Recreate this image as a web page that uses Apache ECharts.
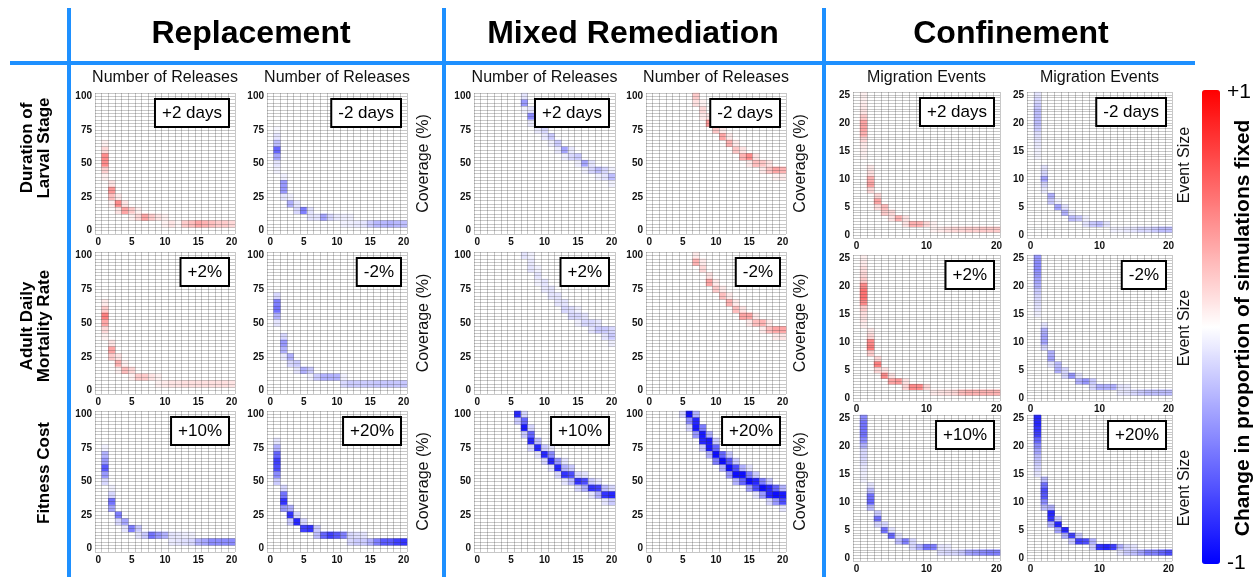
<!DOCTYPE html>
<html>
<head>
<meta charset="utf-8">
<script src="https://cdn.jsdelivr.net/npm/echarts@6/dist/echarts.min.js"></script>
<style>
html, body { margin: 0; padding: 0; background: #fff; }
#chart { width: 1257px; height: 577px; }
</style>
</head>
<body>
<div id="chart"></div>
<script>
const FONT = '"Liberation Sans", Arial, Helvetica, sans-serif';

// axis categories
const releases = ['0','1','2','3','4','5','6','7','8','9','10','11','12','13','14','15','16','17','18','19','20'];
const coverage = ['0','5','10','15','20','25','30','35','40','45','50','55','60','65','70','75','80','85','90','95','100'];
const migrationEvents = ['0','1','2','3','4','5','6','7','8','9','10','11','12','13','14','15','16','17','18','19','20'];
const eventSize = ['0','1','2','3','4','5','6','7','8','9','10','11','12','13','14','15','16','17','18','19','20','21','22','23','24','25'];

const groupNames = ['Replacement', 'Mixed Remediation', 'Confinement'];
const rowNames = ['Duration of\nLarval Stage', 'Adult Daily\nMortality Rate', 'Fitness Cost'];
const boxLabels = [['+2 days', '-2 days'], ['+2%', '-2%'], ['+10%', '+20%']];

// cells: [x, y, change in proportion fixed]
const replDurUp = [
  [1,65,0.05],[1,60,0.15],[1,55,0.45],[1,50,0.45],[1,45,0.18],[1,40,0.06],
  [2,35,0.1],[2,30,0.4],[2,25,0.25],[2,20,0.05],
  [3,25,0.08],[3,20,0.45],[3,15,0.1],
  [4,20,0.1],[4,15,0.35],[5,15,0.2],[5,10,0.05],[6,15,0.05],[6,10,0.15],
  [7,10,0.35],[8,10,0.2],[9,10,0.1],[10,10,0.05],[10,5,0.05],
  [11,5,0.1],[12,5,0.03],[13,5,0.2],[14,5,0.25],[15,5,0.35],[16,5,0.3],[17,5,0.25],[18,5,0.2],[19,5,0.2],[20,5,0.15]
];
const replDurDown = [
  [1,75,-0.03],[1,70,-0.1],[1,65,-0.25],[1,60,-0.6],[1,55,-0.35],[1,50,-0.1],[1,45,-0.05],
  [2,40,-0.05],[2,35,-0.4],[2,30,-0.4],[2,25,-0.1],
  [3,25,-0.05],[3,20,-0.3],[4,20,-0.1],[4,15,-0.15],[5,15,-0.5],
  [6,15,-0.1],[6,10,-0.1],[7,10,-0.1],[8,10,-0.35],[9,10,-0.15],
  [10,10,-0.08],[11,10,-0.06],[12,10,-0.05],[11,5,-0.05],[12,5,-0.06],[13,5,-0.08],[14,5,-0.1],
  [15,5,-0.2],[16,5,-0.28],[17,5,-0.28],[18,5,-0.3],[19,5,-0.28],[20,5,-0.25]
];
const mixDurUp = [
  [7,100,-0.1],[7,95,-0.4],[7,90,-0.05],[8,90,-0.1],[8,85,-0.45],[8,80,-0.08],
  [9,80,-0.2],[9,75,-0.08],[10,75,-0.15],[10,70,-0.08],[11,70,-0.2],[11,65,-0.06],
  [12,65,-0.2],[12,60,-0.08],[13,60,-0.35],[13,55,-0.06],[14,60,-0.08],[14,55,-0.15],
  [15,55,-0.2],[15,50,-0.06],[16,50,-0.35],[16,45,-0.05],[17,50,-0.1],[17,45,-0.15],
  [18,45,-0.25],[18,40,-0.05],[19,45,-0.15],[19,40,-0.1],[20,45,-0.05],[20,40,-0.25],[20,35,-0.05]
];
const mixDurDown = [
  [7,100,0.2],[7,95,0.12],[8,95,0.05],[8,90,0.15],[8,85,0.08],[9,85,0.1],[9,80,0.4],
  [10,80,0.08],[10,75,0.22],[11,75,0.08],[11,70,0.35],[12,70,0.08],[12,65,0.3],
  [13,65,0.08],[13,60,0.22],[14,60,0.1],[14,55,0.3],[15,55,0.45],[15,50,0.08],
  [16,55,0.1],[16,50,0.25],[17,50,0.22],[17,45,0.08],[18,50,0.1],[18,45,0.22],
  [19,45,0.35],[19,40,0.05],[20,45,0.3],[20,40,0.08]
];
const confDurUp = [
  [1,25,0.06],[1,24,0.06],[1,23,0.08],[1,22,0.1],[1,21,0.2],[1,20,0.35],[1,19,0.35],[1,18,0.3],[1,17,0.15],[1,16,0.08],[1,15,0.06],[1,14,0.04],
  [2,12,0.08],[2,11,0.12],[2,10,0.3],[2,9,0.35],[2,8,0.15],
  [3,7,0.15],[3,6,0.35],[3,5,0.12],[4,5,0.25],[4,4,0.2],[5,4,0.15],[5,3,0.1],
  [6,3,0.3],[7,3,0.1],[7,2,0.1],[8,2,0.3],[9,2,0.3],[10,2,0.15],[11,2,0.05],[11,1,0.05],
  [12,1,0.08],[13,1,0.12],[14,1,0.15],[15,1,0.15],[16,1,0.18],[17,1,0.18],[18,1,0.2],[19,1,0.2],[20,1,0.2]
];
const confDurDown = [
  [1,25,-0.1],[1,24,-0.15],[1,23,-0.2],[1,22,-0.25],[1,21,-0.25],[1,20,-0.25],[1,19,-0.2],[1,18,-0.12],[1,17,-0.1],[1,16,-0.08],[1,15,-0.05],[1,14,-0.04],
  [2,12,-0.1],[2,11,-0.15],[2,10,-0.35],[2,9,-0.15],[2,8,-0.08],
  [3,7,-0.3],[3,6,-0.2],[4,6,-0.05],[4,5,-0.35],[5,5,-0.1],[5,4,-0.3],
  [6,4,-0.05],[6,3,-0.25],[7,3,-0.2],[8,3,-0.05],[8,2,-0.1],[9,2,-0.2],[10,2,-0.25],[11,2,-0.1],
  [12,1,-0.05],[13,1,-0.05],[14,1,-0.08],[15,1,-0.1],[16,1,-0.15],[17,1,-0.15],[18,1,-0.2],[19,1,-0.25],[20,1,-0.25]
];

const replMortUp = [
  [1,65,0.08],[1,60,0.2],[1,55,0.5],[1,50,0.35],[1,45,0.15],[1,40,0.05],
  [2,35,0.1],[2,30,0.35],[2,25,0.2],[3,25,0.1],[3,20,0.3],[3,15,0.05],
  [4,20,0.05],[4,15,0.25],[5,15,0.15],[5,10,0.05],
  [6,10,0.2],[7,10,0.2],[8,10,0.1],[9,10,0.05],
  [9,5,0.05],[10,5,0.08],[11,5,0.1],[12,5,0.1],[13,5,0.12],[14,5,0.12],[15,5,0.12],[16,5,0.12],[17,5,0.12],[18,5,0.12],[19,5,0.12],[20,5,0.1]
];
const replMortDown = [
  [1,70,-0.15],[1,65,-0.5],[1,60,-0.55],[1,55,-0.3],[1,50,-0.1],
  [2,40,-0.15],[2,35,-0.4],[2,30,-0.3],[2,25,-0.08],[3,25,-0.3],[3,20,-0.15],
  [4,20,-0.2],[4,15,-0.1],[5,15,-0.3],[6,15,-0.2],[6,10,-0.05],
  [7,10,-0.2],[8,10,-0.3],[9,10,-0.3],[10,10,-0.3],
  [11,10,-0.05],[11,5,-0.15],[12,5,-0.2],[13,5,-0.2],[14,5,-0.2],[15,5,-0.2],[16,5,-0.22],[17,5,-0.22],[18,5,-0.22],[19,5,-0.22],[20,5,-0.22]
];
const mixMortUp = [
  [7,100,-0.1],[8,100,-0.05],[8,95,-0.08],[8,90,-0.1],[9,90,-0.05],[9,85,-0.1],[9,80,-0.05],
  [10,80,-0.1],[10,75,-0.08],[11,75,-0.1],[11,70,-0.1],[12,70,-0.1],[12,65,-0.1],
  [13,65,-0.1],[13,60,-0.15],[14,60,-0.12],[14,55,-0.15],[15,60,-0.06],[15,55,-0.15],[15,50,-0.06],
  [16,55,-0.1],[16,50,-0.15],[17,50,-0.15],[17,45,-0.1],[18,50,-0.1],[18,45,-0.2],
  [19,45,-0.2],[19,40,-0.1],[20,45,-0.15],[20,40,-0.2],[20,35,-0.06]
];
const mixMortDown = [
  [7,100,0.08],[7,95,0.3],[8,95,0.08],[8,90,0.15],[9,85,0.1],[9,80,0.35],
  [10,80,0.08],[10,75,0.2],[11,75,0.08],[11,70,0.25],[12,70,0.08],[12,65,0.3],
  [13,65,0.08],[13,60,0.25],[14,60,0.1],[14,55,0.35],[15,55,0.35],[15,50,0.08],
  [16,55,0.08],[16,50,0.25],[17,50,0.3],[17,45,0.08],[18,50,0.08],[18,45,0.25],
  [19,45,0.35],[19,40,0.08],[20,45,0.35],[20,40,0.1]
];
const confMortUp = [
  [1,25,0.06],[1,24,0.08],[1,23,0.12],[1,22,0.15],[1,21,0.2],[1,20,0.45],[1,19,0.55],[1,18,0.55],[1,17,0.45],[1,16,0.2],[1,15,0.12],[1,14,0.1],[1,13,0.06],
  [2,12,0.08],[2,11,0.15],[2,10,0.45],[2,9,0.5],[2,8,0.2],
  [3,7,0.15],[3,6,0.5],[3,5,0.15],[4,5,0.1],[4,4,0.45],[5,4,0.1],[5,3,0.35],
  [6,3,0.4],[7,3,0.1],[7,2,0.15],[8,2,0.45],[9,2,0.45],[10,2,0.15],
  [11,1,0.08],[12,1,0.1],[13,1,0.12],[14,1,0.15],[15,1,0.25],[16,1,0.3],[17,1,0.3],[18,1,0.3],[19,1,0.3],[20,1,0.3]
];
const confMortDown = [
  [1,25,-0.4],[1,24,-0.45],[1,23,-0.45],[1,22,-0.4],[1,21,-0.35],[1,20,-0.3],[1,19,-0.2],[1,18,-0.15],[1,17,-0.12],[1,16,-0.1],[1,15,-0.06],
  [2,13,-0.1],[2,12,-0.3],[2,11,-0.35],[2,10,-0.35],[2,9,-0.15],
  [3,8,-0.3],[3,7,-0.35],[3,6,-0.1],[4,6,-0.25],[4,5,-0.3],[5,5,-0.15],[5,4,-0.15],
  [6,4,-0.4],[7,4,-0.1],[7,3,-0.3],[8,3,-0.4],[9,3,-0.2],[9,2,-0.15],
  [10,2,-0.3],[11,2,-0.3],[12,2,-0.3],[13,2,-0.1],[14,2,-0.08],
  [13,1,-0.08],[14,1,-0.1],[15,1,-0.15],[16,1,-0.2],[17,1,-0.25],[18,1,-0.25],[19,1,-0.25],[20,1,-0.25]
];

const replFit10 = [
  [1,75,-0.05],[1,70,-0.3],[1,65,-0.4],[1,60,-0.65],[1,55,-0.4],[1,50,-0.15],
  [2,45,-0.05],[2,40,-0.15],[2,35,-0.55],[2,30,-0.35],[3,25,-0.5],[3,20,-0.15],
  [4,20,-0.35],[4,15,-0.1],[5,15,-0.5],[6,15,-0.2],[6,10,-0.1],
  [7,10,-0.2],[8,10,-0.55],[9,10,-0.4],[10,10,-0.3],
  [11,10,-0.1],[12,10,-0.08],[13,10,-0.06],[14,10,-0.05],
  [11,5,-0.08],[12,5,-0.1],[13,5,-0.12],[14,5,-0.15],
  [15,5,-0.3],[16,5,-0.35],[17,5,-0.45],[18,5,-0.45],[19,5,-0.45],[20,5,-0.45]
];
const replFit20 = [
  [1,80,-0.1],[1,75,-0.3],[1,70,-0.6],[1,65,-0.75],[1,60,-0.7],[1,55,-0.45],[1,50,-0.2],
  [2,45,-0.15],[2,40,-0.55],[2,35,-0.8],[2,30,-0.4],[3,30,-0.3],[3,25,-0.8],[3,20,-0.2],
  [4,25,-0.15],[4,20,-0.85],[5,20,-0.15],[5,15,-0.75],[6,15,-0.8],[7,15,-0.2],[7,10,-0.25],
  [8,10,-0.6],[9,10,-0.75],[10,10,-0.65],[11,10,-0.5],
  [12,10,-0.15],[13,10,-0.12],[14,10,-0.1],[12,5,-0.15],[13,5,-0.2],[14,5,-0.2],
  [15,5,-0.3],[16,5,-0.5],[17,5,-0.65],[18,5,-0.65],[19,5,-0.75],[20,5,-0.8]
];
const mixFit10 = [
  [6,100,-0.85],[6,95,-0.2],
  [7,100,-0.15],[7,95,-0.6],[7,90,-0.9],[7,85,-0.2],
  [8,90,-0.15],[8,85,-0.6],[8,80,-0.85],[8,75,-0.15],
  [9,80,-0.25],[9,75,-0.85],[9,70,-0.1],
  [10,75,-0.2],[10,70,-0.85],[10,65,-0.15],
  [11,75,-0.1],[11,70,-0.45],[11,65,-0.85],[11,60,-0.1],
  [12,65,-0.4],[12,60,-0.85],[12,55,-0.15],
  [13,65,-0.1],[13,60,-0.3],[13,55,-0.8],[13,50,-0.1],
  [14,60,-0.2],[14,55,-0.7],[14,50,-0.25],
  [15,55,-0.15],[15,50,-0.8],[15,45,-0.15],
  [16,55,-0.1],[16,50,-0.7],[16,45,-0.3],
  [17,50,-0.2],[17,45,-0.8],[17,40,-0.1],
  [18,50,-0.1],[18,45,-0.75],[18,40,-0.3],
  [19,45,-0.25],[19,40,-0.8],[19,35,-0.1],
  [20,45,-0.15],[20,40,-0.85],[20,35,-0.2]
];
const mixFit20 = [
  [5,100,-0.15],
  [6,100,-0.95],[6,95,-0.45],[6,90,-0.15],
  [7,100,-0.3],[7,95,-0.85],[7,90,-0.9],[7,85,-0.4],
  [8,90,-0.5],[8,85,-0.9],[8,80,-0.85],[8,75,-0.2],
  [9,85,-0.3],[9,80,-0.9],[9,75,-0.9],[9,70,-0.3],
  [10,80,-0.2],[10,75,-0.6],[10,70,-0.95],[10,65,-0.5],
  [11,70,-0.6],[11,65,-0.95],[11,60,-0.3],
  [12,70,-0.2],[12,65,-0.65],[12,60,-0.95],[12,55,-0.4],
  [13,65,-0.2],[13,60,-0.7],[13,55,-0.95],[13,50,-0.3],
  [14,60,-0.3],[14,55,-0.95],[14,50,-0.6],
  [15,60,-0.1],[15,55,-0.5],[15,50,-0.95],[15,45,-0.35],
  [16,55,-0.2],[16,50,-0.85],[16,45,-0.7],[16,40,-0.1],
  [17,50,-0.5],[17,45,-0.95],[17,40,-0.4],
  [18,50,-0.2],[18,45,-0.85],[18,40,-0.85],[18,35,-0.15],
  [19,45,-0.6],[19,40,-0.95],[19,35,-0.4],
  [20,45,-0.3],[20,40,-0.9],[20,35,-0.7],[20,30,-0.1]
];
const confFit10 = [
  [1,25,-0.45],[1,24,-0.55],[1,23,-0.55],[1,22,-0.55],[1,21,-0.45],[1,20,-0.3],[1,19,-0.15],[1,18,-0.15],[1,17,-0.12],[1,16,-0.08],[1,15,-0.06],[1,14,-0.05],
  [2,13,-0.1],[2,12,-0.25],[2,11,-0.55],[2,10,-0.6],[2,9,-0.25],
  [3,8,-0.2],[3,7,-0.55],[3,6,-0.15],[4,6,-0.15],[4,5,-0.55],[5,5,-0.1],[5,4,-0.6],
  [6,4,-0.1],[6,3,-0.25],[7,3,-0.5],[8,3,-0.15],[8,2,-0.15],[9,2,-0.3],[10,2,-0.55],[11,2,-0.5],
  [12,2,-0.1],[13,2,-0.08],[12,1,-0.12],[13,1,-0.15],[14,1,-0.15],[15,1,-0.2],[16,1,-0.35],[17,1,-0.4],[18,1,-0.45],[19,1,-0.5],[20,1,-0.5]
];
const confFit20 = [
  [1,25,-0.85],[1,24,-0.85],[1,23,-0.8],[1,22,-0.75],[1,21,-0.6],[1,20,-0.45],[1,19,-0.35],[1,18,-0.25],[1,17,-0.2],[1,16,-0.15],[1,15,-0.1],
  [2,14,-0.25],[2,13,-0.55],[2,12,-0.7],[2,11,-0.65],[2,10,-0.45],[2,9,-0.25],
  [3,9,-0.3],[3,8,-0.85],[3,7,-0.8],[3,6,-0.3],[4,7,-0.2],[4,6,-0.85],[4,5,-0.35],
  [5,5,-0.85],[5,4,-0.3],[6,4,-0.75],[6,3,-0.2],[7,4,-0.2],[7,3,-0.75],
  [8,3,-0.7],[9,3,-0.3],[9,2,-0.2],[10,2,-0.8],[11,2,-0.85],[12,2,-0.75],[13,2,-0.3],[13,1,-0.1],
  [14,2,-0.15],[14,1,-0.2],[15,2,-0.1],[15,1,-0.25],[16,1,-0.35],[17,1,-0.5],[18,1,-0.5],[19,1,-0.6],[20,1,-0.7]
];

const panelData = [
  [replDurUp, replDurDown, mixDurUp, mixDurDown, confDurUp, confDurDown],
  [replMortUp, replMortDown, mixMortUp, mixMortDown, confMortUp, confMortDown],
  [replFit10, replFit20, mixFit10, mixFit20, confFit10, confFit20]
];

// layout (pixels)
const colBox = [[95, 140], [267, 140], [474, 141], [646, 140], [853, 147], [1027, 145]];
const rowBox = [[93, 141], [252, 142], [411, 141]];
const rowBoxConf = [[92, 146], [255, 146], [415, 146]];
const BLUE = '#1e90ff';
const LINE = 'rgba(50,50,50,0.27)';

const chart = echarts.init(document.getElementById('chart'));

const grids = [], xAxes = [], yAxes = [], series = [], graphics = [];
const labelStyle = { fontSize: 10, fontWeight: 'bold', color: '#111', fontFamily: FONT };

let g = 0;
for (let r = 0; r < 3; r++) {
  for (let c = 0; c < 6; c++) {
    const conf = c >= 4;
    const [left, width] = colBox[c];
    const [top, height] = conf ? rowBoxConf[r] : rowBox[r];
    const xCats = conf ? migrationEvents : releases;
    const yCats = conf ? eventSize : coverage;
    const yStep = conf ? 1 : 5;
    const xEvery = conf ? 10 : 5;
    grids.push({ left: left, top: top, width: width, height: height });

    xAxes.push({
      type: 'category', gridIndex: g, data: xCats, z: 3,
      axisLine: { show: false }, axisTick: { show: false },
      axisLabel: Object.assign({ interval: (i) => i % xEvery === 0, margin: 3 }, labelStyle),
      splitLine: { show: true, interval: 0, lineStyle: { color: LINE, width: 1 } }
    });
    yAxes.push({
      type: 'category', gridIndex: g, data: yCats,
      axisLine: { show: false }, axisTick: { show: false },
      axisLabel: Object.assign({ interval: (i) => i % 5 === 0, margin: 3 }, labelStyle),
      splitLine: { show: false }
    });
    // finer horizontal mesh (two lines per row)
    yAxes.push({
      type: 'category', gridIndex: g, z: 3,
      data: Array.from({ length: yCats.length * 2 }, (_, i) => 'h' + i),
      axisLine: { show: false }, axisTick: { show: false }, axisLabel: { show: false },
      splitLine: { show: true, interval: 0, lineStyle: { color: LINE, width: 1 } }
    });

    series.push({
      type: 'heatmap', xAxisIndex: g, yAxisIndex: 2 * g, silent: true,
      emphasis: { disabled: true },
      data: panelData[r][c].map(d => [d[0], d[1] / yStep, d[2]])
    });

    // annotation box
    graphics.push({
      type: 'text', x: left + width - 7, y: top + 7, z: 10,
      style: {
        text: boxLabels[r][c % 2], font: '17px ' + FONT, fill: '#000',
        align: 'right', verticalAlign: 'top',
        backgroundColor: '#fff', borderColor: '#000', borderWidth: 2, padding: [5, 6, 4, 6]
      }
    });

    // panel titles on the first row
    if (r === 0) {
      graphics.push({
        type: 'text', x: left + width / 2, y: 78,
        style: { text: conf ? 'Migration Events' : 'Number of Releases', font: '16px ' + FONT, fill: '#111', align: 'center', verticalAlign: 'middle' }
      });
    }
    // y-axis names on the right of each pair
    if (c % 2 === 1) {
      const nx = c === 1 ? 424 : c === 3 ? 801 : 1185;
      graphics.push({
        type: 'text', x: nx, y: top + height / 2, rotation: Math.PI / 2,
        style: { text: conf ? 'Event Size' : 'Coverage (%)', font: '16px ' + FONT, fill: '#111', align: 'center', verticalAlign: 'middle' }
      });
    }
    g++;
  }
}

// group headers
const headerX = [251, 633, 1011];
groupNames.forEach((name, i) => {
  graphics.push({
    type: 'text', x: headerX[i], y: 34,
    style: { text: name, font: 'bold 32px ' + FONT, fill: '#000', align: 'center', verticalAlign: 'middle' }
  });
});

// row labels
const rowLabelPos = [[36, 148], [36, 326], [44, 473]];
rowNames.forEach((name, i) => {
  graphics.push({
    type: 'text', x: rowLabelPos[i][0], y: rowLabelPos[i][1], rotation: Math.PI / 2,
    style: { text: name, font: 'bold 17px ' + FONT, lineHeight: 17, fill: '#000', align: 'center', verticalAlign: 'middle' }
  });
});

// blue separator lines
[67, 442, 822].forEach(x => {
  graphics.push({ type: 'rect', shape: { x: x, y: 8, width: 4, height: 569 }, style: { fill: BLUE } });
});
graphics.push({ type: 'rect', shape: { x: 10, y: 61, width: 1185, height: 4 }, style: { fill: BLUE } });

// colour bar labels
graphics.push({ type: 'text', x: 1227, y: 92, style: { text: '+1', font: '21px ' + FONT, fill: '#000', align: 'left', verticalAlign: 'middle' } });
graphics.push({ type: 'text', x: 1227, y: 563, style: { text: '-1', font: '21px ' + FONT, fill: '#000', align: 'left', verticalAlign: 'middle' } });
graphics.push({
  type: 'text', x: 1243, y: 328, rotation: Math.PI / 2,
  style: { text: 'Change in proportion of simulations fixed', font: 'bold 21px ' + FONT, fill: '#000', align: 'center', verticalAlign: 'middle' }
});

chart.setOption({
  backgroundColor: '#fff',
  animation: false,
  grid: grids,
  xAxis: xAxes,
  yAxis: yAxes,
  visualMap: {
    type: 'continuous', min: -1, max: 1, calculable: false, show: true,
    left: 1202, top: 90, itemWidth: 18, itemHeight: 474, padding: 0,
    inRange: { color: ['#0000ff', '#ffffff', '#ff0000'] },
    textStyle: { color: 'transparent' }
  },
  series: series,
  graphic: graphics
});
</script>
</body>
</html>
